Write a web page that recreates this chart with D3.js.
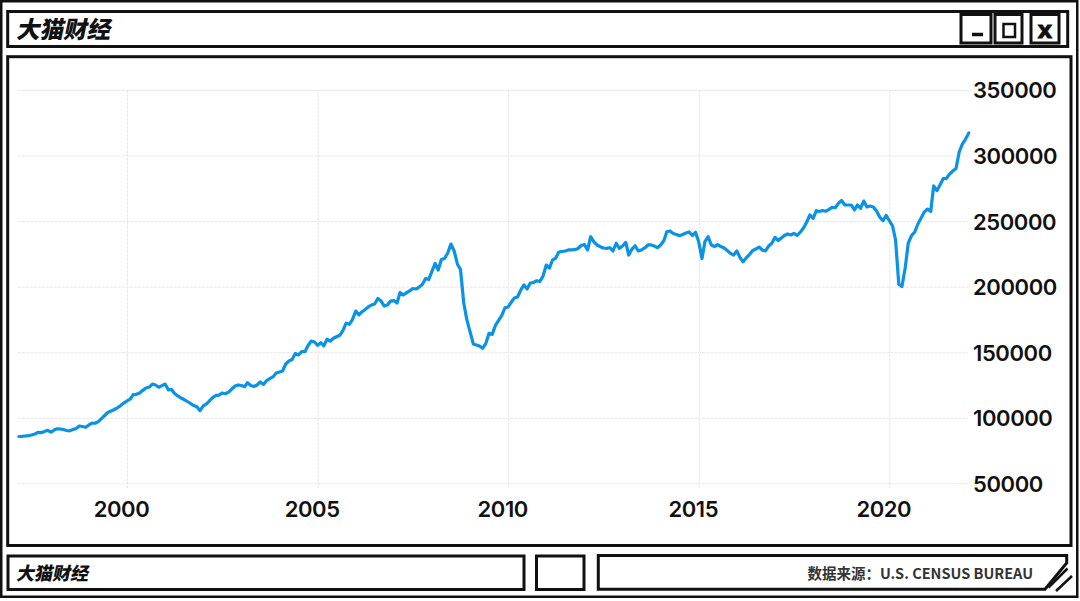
<!DOCTYPE html>
<html>
<head>
<meta charset="utf-8">
<script src="https://cdn.jsdelivr.net/npm/d3@7"></script>
<style>
  body { margin: 0; background: #fff; }
  svg { display: block; }
  .tick text { font-family: Inter, "Liberation Sans", sans-serif; font-weight: 600; font-size: 22px; letter-spacing: -0.4px; fill: #111; }
  .grid .tick line { stroke: #e6e6e6; stroke-width: 1; stroke-dasharray: 3,1; }
</style>
</head>
<body>
<div id="chart"></div>
<script>
// monthly values, starting March 1997, ending February 2022
var startYear = 1997;
var startMonth = 2; // March (0-based)

var imports = [
  85700, 85800, 86100, 86300, 86800, 87600, 88900, 88600, 89500, 90400, // 1997 (Mar-Dec)
  89100, 90600, 91600, 91400, 91000, 90300, 90000, 91000, 91800, 93700, 93300, 92700, // 1998
  94500, 96000, 95800, 97100, 99300, 101700, 104000, 105100, 106300, 107600, 109300, 111200, // 1999
  112800, 114300, 117700, 117900, 118900, 120900, 122700, 123400, 125700, 125000, 123300, 124500, // 2000
  125700, 121200, 121700, 118500, 116600, 115100, 113900, 112400, 110900, 109300, 108400, 105400, // 2001
  109000, 110500, 112800, 115400, 117000, 117300, 118900, 118300, 119600, 121900, 124200, 125000, // 2002
  124600, 123700, 126700, 124600, 123800, 125000, 127300, 125400, 128400, 129900, 131300, 134100, // 2003
  134900, 135700, 141000, 143300, 144400, 149000, 147900, 150400, 150400, 155100, 158500, 157800, // 2004
  155300, 157200, 154900, 159900, 158400, 160600, 161800, 162900, 166700, 172100, 171300, 175100, // 2005
  181400, 178400, 180700, 182600, 184500, 186000, 186800, 191000, 189000, 185200, 186000, 189000, // 2006
  189400, 187500, 195500, 193600, 195200, 196700, 198600, 198200, 199700, 201600, 206200, 205400, // 2007
  211600, 217700, 212700, 220700, 221500, 225700, 232500, 227200, 217300, 213100, 187500, 174600, // 2008
  165400, 156200, 155500, 154700, 153000, 156800, 164400, 163600, 170500, 174300, 178100, 183900, // 2009
  184500, 188300, 191300, 192100, 197400, 201300, 198200, 202800, 203200, 204500, 203900, 208100, // 2010
  216500, 214200, 220300, 221800, 226400, 226800, 227200, 228000, 228000, 228200, 229100, 231400, // 2011
  232100, 228000, 238100, 234100, 231800, 230500, 229500, 229200, 229700, 227200, 233100, 229200, // 2012
  231000, 233800, 224100, 228700, 231200, 227200, 228000, 229500, 231800, 231800, 231000, 229700, // 2013
  231800, 235200, 241900, 242500, 240600, 239800, 238900, 239800, 240900, 241700, 239000, 241500, // 2014
  234100, 221400, 234300, 238100, 231800, 230600, 232100, 230600, 229500, 227600, 225400, 224100, // 2015
  227200, 222100, 219000, 222100, 224500, 227600, 228700, 230200, 228000, 227200, 231000, 233100, // 2016
  237600, 235200, 237100, 239000, 240200, 239400, 240600, 239000, 241700, 244700, 249300, 254700, // 2017
  252100, 257900, 257300, 258100, 257500, 258800, 260500, 260200, 263600, 265700, 262300, 262300, // 2018
  262300, 258500, 262300, 259800, 265300, 260800, 261500, 260800, 257700, 253100, 250200, 254300, // 2019
  250300, 246300, 235600, 202000, 200100, 214200, 233300, 239000, 241700, 247800, 252400, 256900, // 2020
  259200, 257300, 276800, 273200, 277500, 282500, 282600, 285900, 288200, 290100, 302700, 308800, // 2021
  312600, 317200 // 2022 (Jan-Feb)
];

var yearTicks = [2000, 2005, 2010, 2015, 2020];
var valueTicks = [50000, 100000, 150000, 200000, 250000, 300000, 350000];

var titleText = "大猫财经";
var sourceText = "数据来源：U.S. CENSUS BUREAU";

var svgWidth = 1080;
var svgHeight = 601;

var svg = d3.select("#chart")
  .append("svg")
  .attr("width", svgWidth)
  .attr("height", svgHeight);

// window frame
svg.append("rect")
  .attr("x", 1.25).attr("y", 1.25)
  .attr("width", 1076).attr("height", 595.5)
  .attr("fill", "#fff").attr("stroke", "#111").attr("stroke-width", 2.5);

// title bar
svg.append("rect")
  .attr("x", 7.7).attr("y", 11.5)
  .attr("width", 1060).attr("height", 35)
  .attr("fill", "none").attr("stroke", "#111").attr("stroke-width", 3);

svg.append("text")
  .attr("transform", "translate(16,37.5) skewX(-12)")
  .attr("font-family", "'Noto Sans CJK SC', sans-serif")
  .attr("font-weight", 900)
  .attr("font-size", 23.5)
  .attr("fill", "#111")
  .text(titleText);

// window buttons
var buttons = [
  {x: 961, w: 30},
  {x: 995, w: 27},
  {x: 1031, w: 28}
];
svg.selectAll(".btn")
  .data(buttons)
  .enter()
  .append("rect")
  .attr("class", "btn")
  .attr("x", d => d.x).attr("y", 14.5)
  .attr("width", d => d.w).attr("height", 28.5)
  .attr("fill", "none").attr("stroke", "#111").attr("stroke-width", 3);

svg.append("line")
  .attr("x1", 972).attr("x2", 983)
  .attr("y1", 34.5).attr("y2", 34.5)
  .attr("stroke", "#111").attr("stroke-width", 3.5);

svg.append("rect")
  .attr("x", 1003.5).attr("y", 24)
  .attr("width", 11.5).attr("height", 13)
  .attr("fill", "none").attr("stroke", "#111").attr("stroke-width", 2.5);

svg.append("text")
  .attr("x", 1045).attr("y", 38)
  .attr("text-anchor", "middle")
  .attr("font-family", "'DejaVu Sans', sans-serif")
  .attr("font-weight", 700)
  .attr("font-size", 23)
  .attr("fill", "#111")
  .attr("stroke", "#111")
  .attr("stroke-width", 0.8)
  .text("x");

// main panel
svg.append("rect")
  .attr("x", 7.7).attr("y", 56.7)
  .attr("width", 1063.3).attr("height", 488.8)
  .attr("fill", "#fff").attr("stroke", "#111").attr("stroke-width", 3);

// bottom bar
svg.append("rect")
  .attr("x", 8).attr("y", 556)
  .attr("width", 516).attr("height", 33.5)
  .attr("fill", "none").attr("stroke", "#111").attr("stroke-width", 3);

svg.append("rect")
  .attr("x", 536.5).attr("y", 556)
  .attr("width", 47.5).attr("height", 33.5)
  .attr("fill", "none").attr("stroke", "#111").attr("stroke-width", 3);

svg.append("path")
  .attr("d", "M598.3,555.5 H1066.7 V563 L1045,589.3 H598.3 Z")
  .attr("fill", "none").attr("stroke", "#111").attr("stroke-width", 3)
  .attr("stroke-linejoin", "miter");

svg.append("line")
  .attr("x1", 1048.5).attr("y1", 587.5).attr("x2", 1067.5).attr("y2", 568.5)
  .attr("stroke", "#111").attr("stroke-width", 2.5);
svg.append("line")
  .attr("x1", 1056).attr("y1", 591).attr("x2", 1072).attr("y2", 576)
  .attr("stroke", "#111").attr("stroke-width", 2.5);

svg.append("text")
  .attr("transform", "translate(16,580) skewX(-12)")
  .attr("font-family", "'Noto Sans CJK SC', sans-serif")
  .attr("font-weight", 900)
  .attr("font-size", 18)
  .attr("fill", "#111")
  .text(titleText);

svg.append("text")
  .attr("x", 1033).attr("y", 578.5)
  .attr("text-anchor", "end")
  .attr("font-family", "'Noto Sans CJK SC', 'Noto Sans', sans-serif")
  .attr("font-weight", 700)
  .attr("font-size", 14.5)
  .attr("fill", "#333")
  .text(sourceText);

// ---- chart ----
var dates = imports.map((v, i) => new Date(startYear, startMonth + i, 1));
var data = imports.map((v, i) => ({date: dates[i], value: v}));

var xScale = d3.scaleTime()
  .domain([new Date(2000, 0, 1), new Date(2020, 0, 1)])
  .range([127, 889.3]);

var yScale = d3.scaleLinear()
  .domain([50000, 350000])
  .range([483.3, 90]);

// horizontal grid + right-hand labels
var yAxis = d3.axisRight(yScale)
  .tickValues(valueTicks)
  .tickFormat(d3.format("d"))
  .tickSize(950)
  .tickPadding(5);

svg.append("g")
  .attr("class", "grid")
  .attr("transform", "translate(18,0)")
  .call(yAxis)
  .call(g => g.select(".domain").remove())
  .selectAll("text")
  .attr("dy", "0.36em");

// vertical grid + year labels
var xAxis = d3.axisBottom(xScale)
  .tickValues(yearTicks.map(y => new Date(y, 0, 1)))
  .tickFormat(d3.timeFormat("%Y"))
  .tickSize(398)
  .tickPadding(13);

svg.append("g")
  .attr("class", "grid")
  .attr("transform", "translate(0,90)")
  .call(xAxis)
  .call(g => g.select(".domain").remove())
  .selectAll("text")
  .attr("dx", -6);

var line = d3.line()
  .x(d => xScale(d.date))
  .y(d => yScale(d.value));

svg.append("path")
  .datum(data)
  .attr("d", line)
  .attr("fill", "none")
  .attr("stroke", "#0a92e6")
  .attr("stroke-width", 3.2)
  .attr("stroke-linejoin", "round")
  .attr("stroke-linecap", "round");
</script>
</body>
</html>
